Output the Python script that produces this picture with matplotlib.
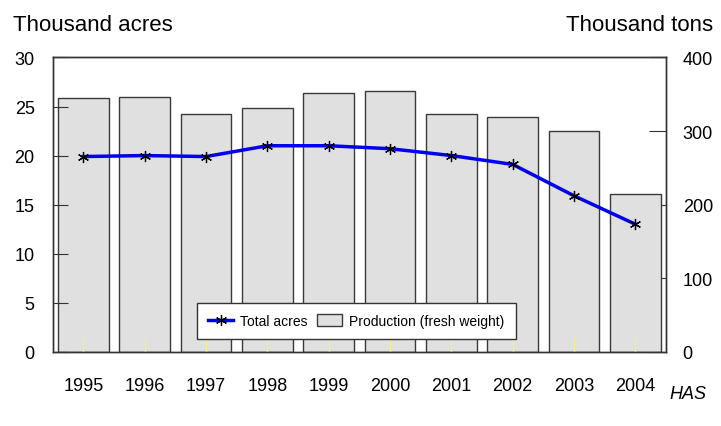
import matplotlib
matplotlib.use("Agg")
import matplotlib.pyplot as plt
from matplotlib.lines import Line2D
from matplotlib.patches import Patch

plt.rcParams['font.family'] = ['Liberation Sans', 'DejaVu Sans']

years = ['1995', '1996', '1997', '1998', '1999', '2000', '2001', '2002', '2003', '2004']
production_tons = [345, 346, 323, 332, 352, 354, 323, 319, 300, 215]
total_acres = [19.9, 20.0, 19.9, 21.0, 21.0, 20.7, 20.0, 19.1, 15.9, 13.0]
left_ticks = [0, 5, 10, 15, 20, 25, 30]
right_ticks = [0, 100, 200, 300, 400]

fig = plt.figure(figsize=(7.21, 4.27), dpi=100)
ax = fig.add_axes([0.0731, 0.174, 0.8506, 0.689])
ax2 = ax.twinx()

x = list(range(len(years)))
ax2.bar(x, production_tons, width=0.83, color='#e0e0e0', edgecolor='#3a3a3a',
        linewidth=1.0, zorder=2)
ax2.set_ylim(0, 400)
ax2.set_yticks(right_ticks)

ax.set_zorder(ax2.get_zorder() + 1)
ax.patch.set_visible(False)
ax.plot(x, total_acres, color='#0000ee', linewidth=2.5, zorder=3,
        marker=(6, 2, 0), markersize=8, markeredgecolor='black',
        markerfacecolor='black', markeredgewidth=0.9)
ax.set_ylim(0, 30)
ax.set_yticks(left_ticks)
ax.set_xlim(-0.5, len(years) - 0.5)
ax.set_xticks(x)
ax.set_xticklabels(years)

for a in (ax, ax2):
    for s in a.spines.values():
        s.set_color('#333333')
        s.set_linewidth(1.0)

ax.tick_params(axis='y', direction='in', length=11, labelsize=13, pad=13, color='#333333')
ax2.tick_params(axis='y', direction='in', length=12, labelsize=13, pad=12, color='#333333')
ax.tick_params(axis='x', direction='in', length=10, labelsize=13, pad=18,
               color='#f2f27a', width=1.0)

handles = [
    Line2D([0], [0], color='#0000ee', linewidth=2.5, marker=(6, 2, 0), markersize=8,
           markeredgecolor='black', markerfacecolor='black', markeredgewidth=0.9),
    Patch(facecolor='#e0e0e0', edgecolor='#3a3a3a', linewidth=1.0),
]
leg = ax.legend(handles, ['Total acres', 'Production (fresh weight)'], ncol=2,
                loc='lower left', bbox_to_anchor=(0.2353, 0.043), borderaxespad=0,
                fontsize=10, frameon=True, fancybox=False, edgecolor='#333333',
                framealpha=1, handlelength=1.8, handleheight=0.9, handletextpad=0.5,
                columnspacing=0.7, borderpad=0.8)
leg.get_frame().set_linewidth(1.0)

fig.text(0.0185, 0.928, 'Thousand acres', fontsize=16, ha='left', va='baseline')
fig.text(0.989, 0.928, 'Thousand tons', fontsize=16, ha='right', va='baseline')
fig.text(0.98, 0.077, 'HAS', fontsize=13, ha='right', va='center', style='italic')

fig.savefig('out.png', dpi=100)
